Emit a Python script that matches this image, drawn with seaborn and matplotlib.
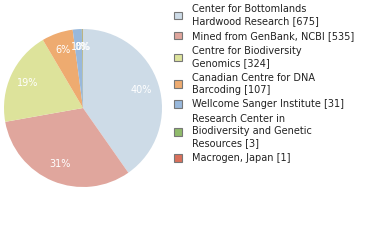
import matplotlib
matplotlib.use("Agg")
import matplotlib.pyplot as plt
from matplotlib.patches import Patch
import seaborn as sns

labels = ["Center for Bottomlands\nHardwood Research [675]",
          "Mined from GenBank, NCBI [535]",
          "Centre for Biodiversity\nGenomics [324]",
          "Canadian Centre for DNA\nBarcoding [107]",
          "Wellcome Sanger Institute [31]",
          "Research Center in\nBiodiversity and Genetic\nResources [3]",
          "Macrogen, Japan [1]"]
counts = [675, 535, 324, 107, 31, 3, 1]
colors = ["#cddbe7", "#e0a69d", "#dde39b", "#eeab70", "#98b8dc", "#90bb6b", "#d9705b"]

sns.set_theme(style="white")
plt.rcParams['font.family'] = ['DejaVu Sans']

fig = plt.figure(figsize=(3.8, 2.4), dpi=100)
ax = fig.add_axes([4/380, (240-187)/240, 158/380, 158/240])
palette = sns.color_palette(colors)
wedges, texts, autotexts = ax.pie(
    counts, colors=palette, startangle=90, counterclock=False,
    autopct=lambda p: f"{int(p)}%", pctdistance=0.77,
    wedgeprops=dict(linewidth=0),
    textprops=dict(color="white", fontsize=7))
ax.set_aspect("equal")
ax.set_xlim(-1, 1)
ax.set_ylim(-1, 1)

handles = [Patch(facecolor=c, edgecolor="#777777", linewidth=0.8) for c in palette]
leg = fig.legend(handles, labels, loc="upper left", bbox_to_anchor=(174/380, 1 - 4/240),
                 frameon=False, fontsize=7, handlelength=0.8, handleheight=0.8,
                 handletextpad=1.0, labelspacing=0.5, borderaxespad=0, borderpad=0)
for t in leg.get_texts():
    t.set_linespacing(1.25)
    t.set_color("#222222")
fig.savefig("out.png", dpi=100)
